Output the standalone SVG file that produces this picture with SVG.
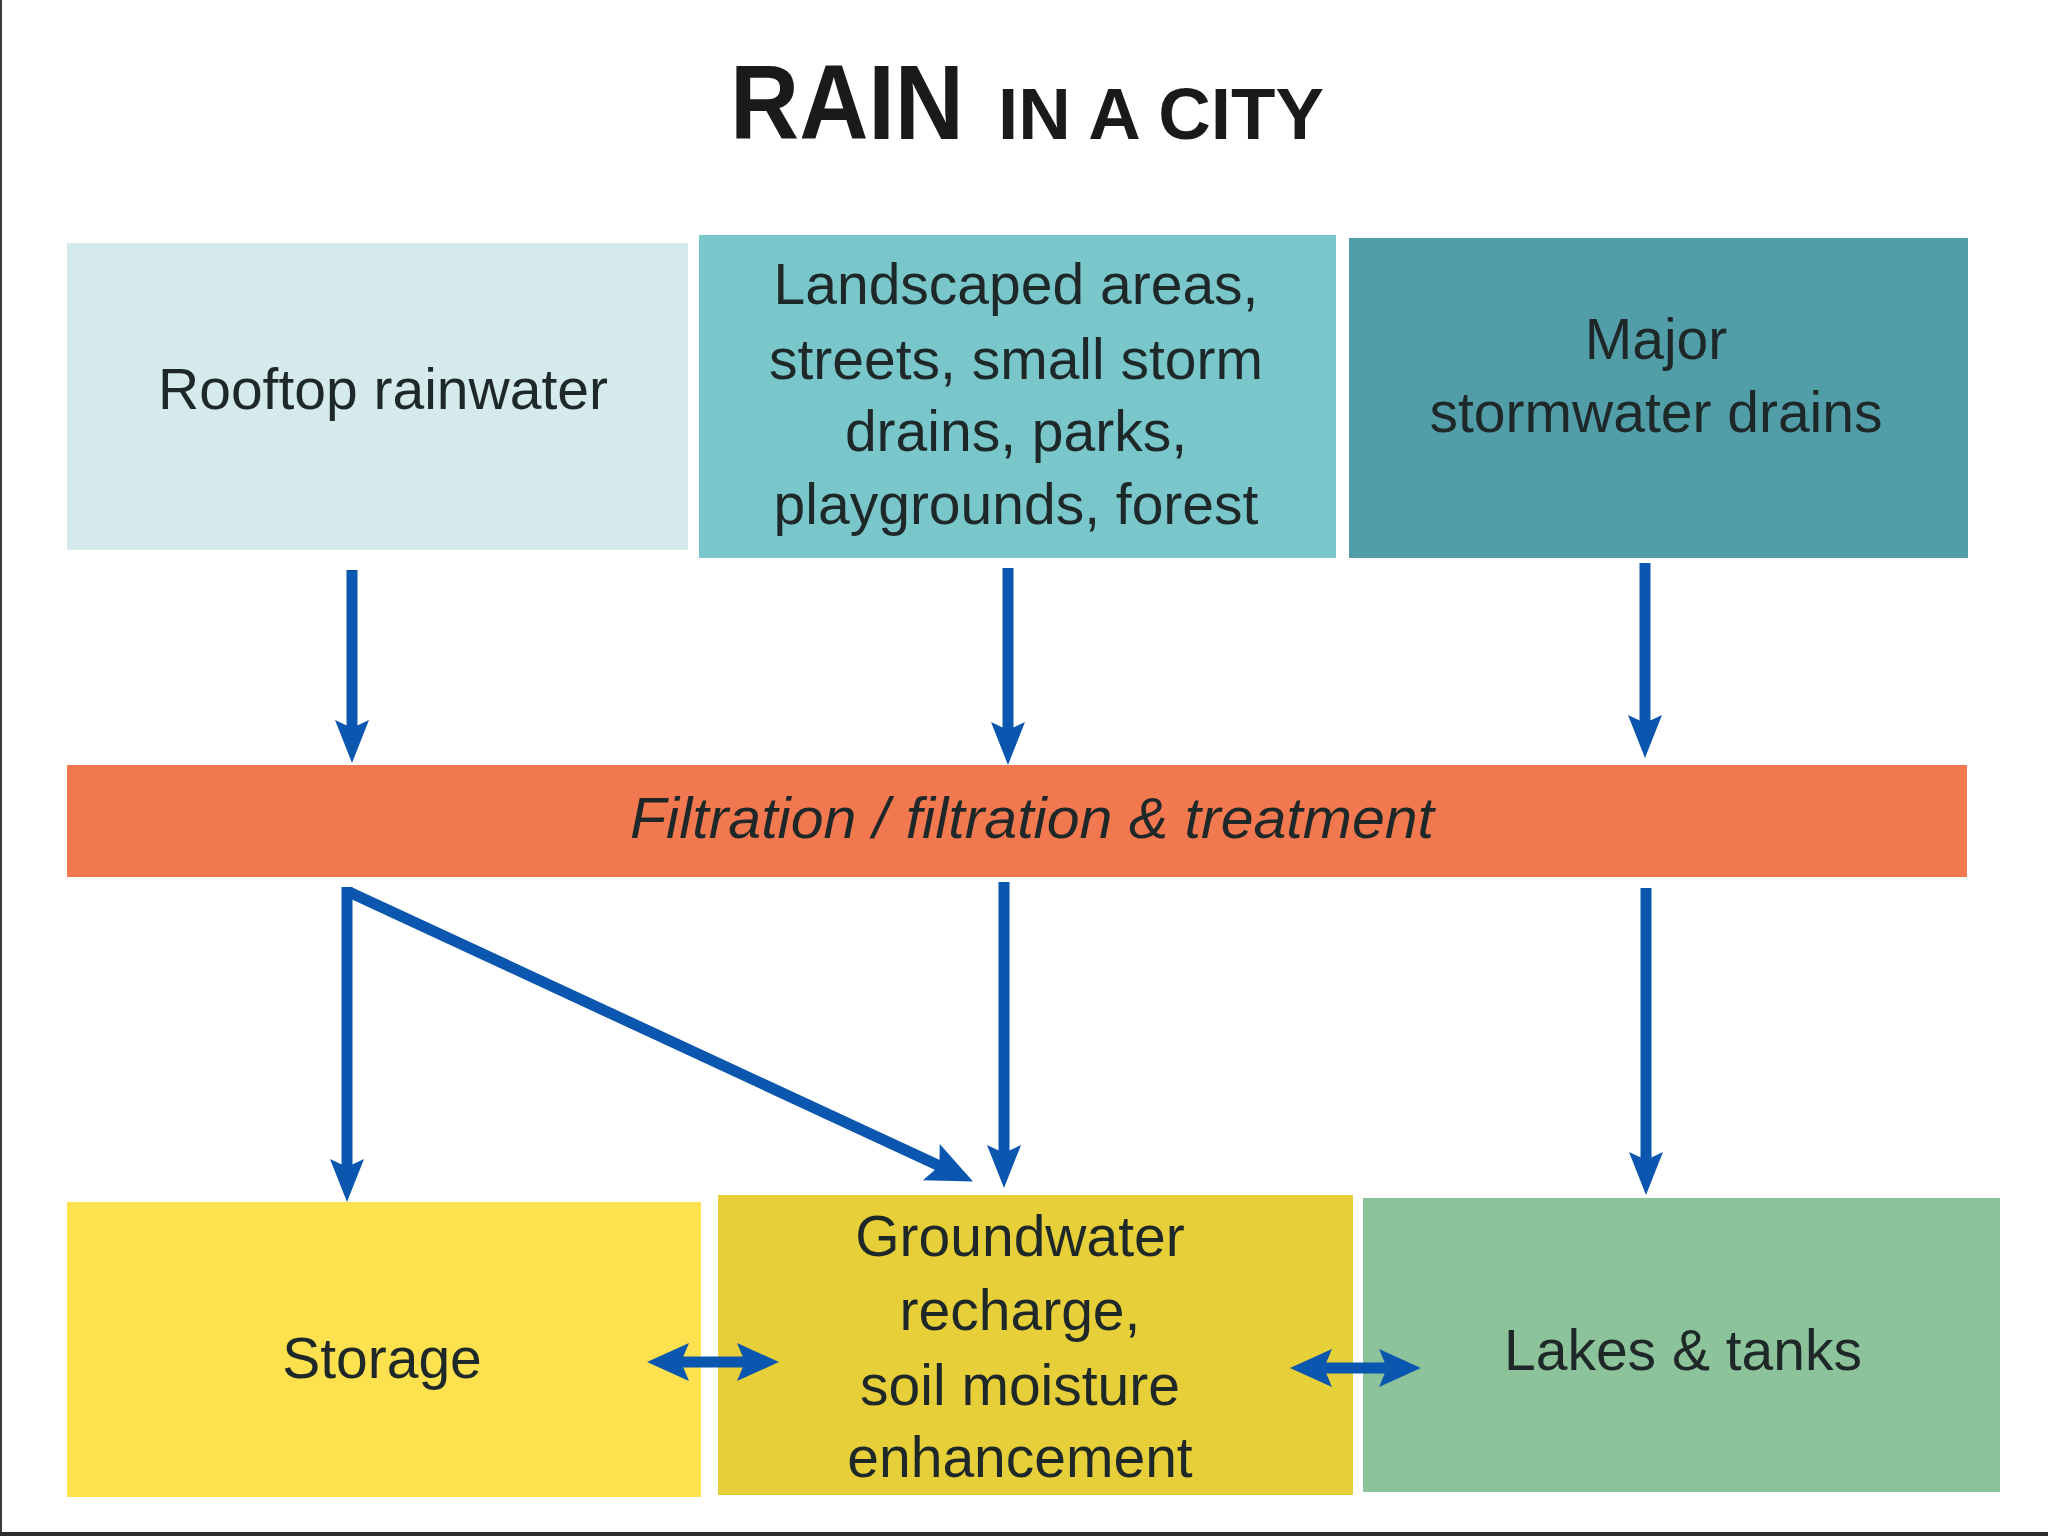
<svg xmlns="http://www.w3.org/2000/svg" width="2048" height="1536" viewBox="0 0 2048 1536">
<defs>
<style>
.t{font-family:"Liberation Sans",Arial,sans-serif;font-size:57px;fill:#1f2828;text-anchor:middle}
.title{font-family:"Liberation Sans",Arial,sans-serif;font-weight:bold;fill:#1a1a1a}
.arr{stroke:#0b56ae;stroke-width:11;fill:none}
</style>
<marker id="ah" markerUnits="userSpaceOnUse" viewBox="-20 -20 60 40" markerWidth="60" markerHeight="40" refX="0" refY="0" orient="auto">
<path d="M30,0 L-13,-17 L-5,0 L-13,17 Z" fill="#0b56ae"/>
</marker>
<marker id="ah3" markerUnits="userSpaceOnUse" viewBox="-20 -24 60 48" markerWidth="60" markerHeight="48" refX="0" refY="0" orient="auto">
<path d="M32,0 L-14,-20 L-5,0 L-14,20 Z" fill="#0b56ae"/>
</marker>
<marker id="ah2" markerUnits="userSpaceOnUse" viewBox="-20 -22 60 44" markerWidth="60" markerHeight="44" refX="0" refY="0" orient="auto-start-reverse">
<path d="M30,0 L-12,-19 L-4,0 L-12,19 Z" fill="#0b56ae"/>
</marker>
</defs>
<rect width="2048" height="1536" fill="#ffffff"/>
<rect x="0" y="0" width="2" height="1536" fill="#3a3a3a"/>
<rect x="0" y="1532" width="2048" height="4" fill="#2e2e2e"/>

<g id="title">
<text class="title" x="730" y="139" font-size="106" textLength="234" lengthAdjust="spacingAndGlyphs">RAIN</text>
<text class="title" x="998" y="139" font-size="73" textLength="326" lengthAdjust="spacingAndGlyphs">IN A CITY</text>
</g>

<g id="rooftop">
<rect x="67" y="243" width="621" height="307" fill="#d4eaec"/>
<text class="t" x="383" y="409">Rooftop rainwater</text>
</g>
<g id="landscaped">
<rect x="699" y="235" width="637" height="323" fill="#79c7cb"/>
<text class="t" x="1016" y="304">Landscaped areas,</text>
<text class="t" x="1016" y="379">streets, small storm</text>
<text class="t" x="1016" y="451">drains, parks,</text>
<text class="t" x="1016" y="524">playgrounds, forest</text>
</g>
<g id="major">
<rect x="1349" y="238" width="619" height="320" fill="#529ea8"/>
<text class="t" x="1656" y="359">Major</text>
<text class="t" x="1656" y="432">stormwater drains</text>
</g>
<g id="filtration">
<rect x="67" y="765" width="1900" height="112" fill="#f2784f"/>
<text class="t" x="1032" y="838" font-style="italic" font-size="59" textLength="804" lengthAdjust="spacingAndGlyphs">Filtration / filtration &amp; treatment</text>
</g>
<g id="storage">
<rect x="67" y="1202" width="634" height="295" fill="#fde14f"/>
<text class="t" x="382" y="1378">Storage</text>
</g>
<g id="groundwater">
<rect x="718" y="1195" width="635" height="300" fill="#e6cf38"/>
<text class="t" x="1020" y="1256">Groundwater</text>
<text class="t" x="1020" y="1330">recharge,</text>
<text class="t" x="1020" y="1405">soil moisture</text>
<text class="t" x="1020" y="1477">enhancement</text>
</g>
<g id="lakes">
<rect x="1363" y="1198" width="637" height="294" fill="#8dc39b"/>
<text class="t" x="1683" y="1370">Lakes &amp; tanks</text>
</g>

<g id="connectors">
<line class="arr" x1="352" y1="570" x2="352" y2="733" marker-end="url(#ah)"/>
<line class="arr" x1="1008" y1="568" x2="1008" y2="735" marker-end="url(#ah)"/>
<line class="arr" x1="1645" y1="563" x2="1645" y2="728" marker-end="url(#ah)"/>
<line class="arr" x1="347" y1="887" x2="347" y2="1172" marker-end="url(#ah)"/>
<line class="arr" x1="1004" y1="882" x2="1004" y2="1158" marker-end="url(#ah)"/>
<line class="arr" x1="1646" y1="888" x2="1646" y2="1165" marker-end="url(#ah)"/>
<line class="arr" x1="349" y1="892" x2="944" y2="1168" stroke-width="15" marker-end="url(#ah3)"/>
<line class="arr" x1="677" y1="1362" x2="749" y2="1362" stroke-width="12" marker-start="url(#ah2)" marker-end="url(#ah2)"/>
<line class="arr" x1="1320" y1="1368" x2="1391" y2="1368" stroke-width="12" marker-start="url(#ah2)" marker-end="url(#ah2)"/>
</g>
</svg>
